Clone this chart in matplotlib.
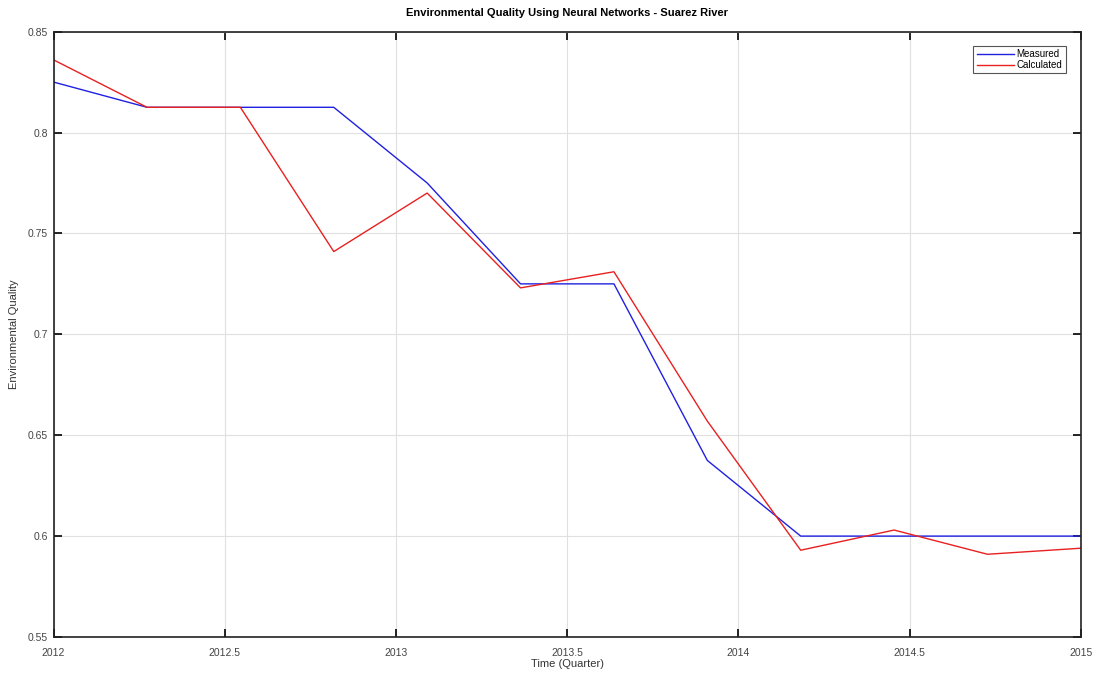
import numpy as np
import matplotlib.pyplot as plt

# quarterly samples, 12 points from 2012 to 2015
time_q = np.linspace(2012, 2015, 12)
measured = [0.825, 0.8125, 0.8125, 0.8125, 0.775, 0.725, 0.725, 0.6375, 0.6, 0.6, 0.6, 0.6]
calculated = [0.836, 0.8125, 0.8125, 0.741, 0.770, 0.723, 0.731, 0.657, 0.593, 0.603, 0.591, 0.594]

x_ticks = [2012, 2012.5, 2013, 2013.5, 2014, 2014.5, 2015]
x_labels = ["2012", "2012.5", "2013", "2013.5", "2014", "2014.5", "2015"]
y_ticks = [0.55, 0.6, 0.65, 0.7, 0.75, 0.8, 0.85]
y_labels = ["0.55", "0.6", "0.65", "0.7", "0.75", "0.8", "0.85"]


def main() -> None:
    plt.rcParams["font.family"] = ["Liberation Sans", "DejaVu Sans"]
    fig = plt.figure(figsize=(10.94, 6.73), dpi=100)
    ax = fig.add_axes([0.049, 0.0535, 0.939, 0.8995])

    ax.plot(time_q, measured, color="#2020e0", lw=1.0, label="Measured")
    ax.plot(time_q, calculated, color="#e82020", lw=1.0, label="Calculated")

    ax.set_xlim(2012, 2015)
    ax.set_ylim(0.55, 0.85)
    ax.set_xticks(x_ticks)
    ax.set_xticklabels(x_labels)
    ax.set_yticks(y_ticks)
    ax.set_yticklabels(y_labels)

    ax.grid(True, color="#e0e0e0", lw=0.8)
    ax.tick_params(direction="in", top=True, right=True, length=6, width=1.2,
                   labelsize=7.5, labelcolor="#444444")
    ax.tick_params(axis="x", pad=8)
    ax.tick_params(axis="y", pad=4)
    for spine in ax.spines.values():
        spine.set_linewidth(1.2)
        spine.set_color("#222222")

    ax.set_title("Environmental Quality Using Neural Networks - Suarez River",
                 fontsize=8, fontweight="bold", pad=11)
    ax.set_xlabel("Time (Quarter)", fontsize=8, color="#333333", labelpad=1)
    ax.set_ylabel("Environmental Quality", fontsize=8, color="#333333", labelpad=6)

    leg = ax.legend(loc="upper right", fontsize=7, handlelength=3.8,
                    fancybox=False, framealpha=1, edgecolor="#555555",
                    borderpad=0.35, labelspacing=0.1, handletextpad=0.3,
                    bbox_to_anchor=(0.99, 0.985))
    leg.get_frame().set_linewidth(0.8)

    fig.savefig("out.png", dpi=100)
    plt.close(fig)


if __name__ == "__main__":
    main()
